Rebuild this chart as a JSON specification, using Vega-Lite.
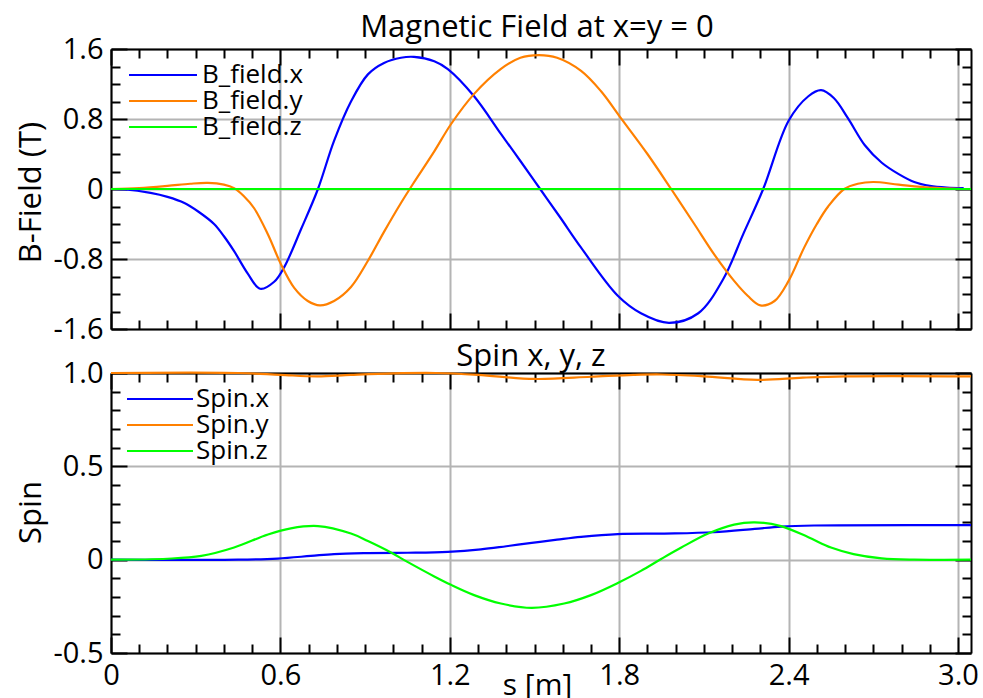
{
"$schema": "https://vega.github.io/schema/vega-lite/v6.json",
"autosize": {"type": "pad"},
"padding": {"left": 14, "top": 12, "right": 6, "bottom": 0},
"background": "white",
"bounds": "flush",
"spacing": 44,
"config": {
  "font": "Open Sans",
  "view": {"stroke": null},
  "axis": {"domainColor": "black", "domainWidth": 2, "tickColor": "black", "tickWidth": 2, "labelColor": "black", "titleColor": "black", "gridColor": "#b4b4b4", "gridWidth": 2, "labelFont": "Open Sans", "labelFontSize": 29, "titleFont": "Open Sans", "titleFontWeight": "normal", "labelFlush": false, "labelOverlap": false, "labelPadding": 24},
  "legend": {"labelFont": "Open Sans", "labelFontSize": 26, "labelColor": "black"},
  "title": {"font": "Open Sans", "fontWeight": "normal", "color": "black"}
},
"resolve": {"scale": {"x": "independent", "y": "independent", "color": "independent"}, "legend": {"color": "independent"}},
"datasets": {
  "bfield": [
    {"s":0,"v":0,"c":"B_field.x"},{"s":0.05,"v":-0.005,"c":"B_field.x"},{"s":0.14,"v":-0.045,"c":"B_field.x"},{"s":0.2,"v":-0.09,"c":"B_field.x"},{"s":0.26,"v":-0.16,"c":"B_field.x"},{"s":0.31,"v":-0.26,"c":"B_field.x"},{"s":0.365,"v":-0.4,"c":"B_field.x"},{"s":0.4,"v":-0.54,"c":"B_field.x"},{"s":0.436,"v":-0.71,"c":"B_field.x"},{"s":0.485,"v":-0.97,"c":"B_field.x"},{"s":0.528,"v":-1.14,"c":"B_field.x"},{"s":0.578,"v":-1.06,"c":"B_field.x"},{"s":0.614,"v":-0.89,"c":"B_field.x"},{"s":0.673,"v":-0.46,"c":"B_field.x"},{"s":0.733,"v":0,"c":"B_field.x"},{"s":0.79,"v":0.55,"c":"B_field.x"},{"s":0.85,"v":1.0,"c":"B_field.x"},{"s":0.91,"v":1.31,"c":"B_field.x"},{"s":0.967,"v":1.44,"c":"B_field.x"},{"s":1.027,"v":1.5,"c":"B_field.x"},{"s":1.073,"v":1.51,"c":"B_field.x"},{"s":1.145,"v":1.46,"c":"B_field.x"},{"s":1.193,"v":1.37,"c":"B_field.x"},{"s":1.286,"v":1.06,"c":"B_field.x"},{"s":1.381,"v":0.63,"c":"B_field.x"},{"s":1.45,"v":0.32,"c":"B_field.x"},{"s":1.52,"v":0,"c":"B_field.x"},{"s":1.59,"v":-0.32,"c":"B_field.x"},{"s":1.665,"v":-0.67,"c":"B_field.x"},{"s":1.795,"v":-1.22,"c":"B_field.x"},{"s":1.877,"v":-1.42,"c":"B_field.x"},{"s":1.976,"v":-1.53,"c":"B_field.x"},{"s":2.08,"v":-1.42,"c":"B_field.x"},{"s":2.17,"v":-1.02,"c":"B_field.x"},{"s":2.24,"v":-0.51,"c":"B_field.x"},{"s":2.31,"v":0,"c":"B_field.x"},{"s":2.4,"v":0.78,"c":"B_field.x"},{"s":2.47,"v":1.06,"c":"B_field.x"},{"s":2.515,"v":1.13,"c":"B_field.x"},{"s":2.56,"v":1.04,"c":"B_field.x"},{"s":2.61,"v":0.81,"c":"B_field.x"},{"s":2.67,"v":0.5,"c":"B_field.x"},{"s":2.73,"v":0.3,"c":"B_field.x"},{"s":2.79,"v":0.17,"c":"B_field.x"},{"s":2.845,"v":0.08,"c":"B_field.x"},{"s":2.9,"v":0.035,"c":"B_field.x"},{"s":2.96,"v":0.015,"c":"B_field.x"},{"s":3.02,"v":0.01,"c":"B_field.x"},
    {"s":0,"v":0,"c":"B_field.y"},{"s":0.1,"v":0.01,"c":"B_field.y"},{"s":0.2,"v":0.035,"c":"B_field.y"},{"s":0.28,"v":0.06,"c":"B_field.y"},{"s":0.343,"v":0.07,"c":"B_field.y"},{"s":0.4,"v":0.05,"c":"B_field.y"},{"s":0.436,"v":0.01,"c":"B_field.y"},{"s":0.47,"v":-0.08,"c":"B_field.y"},{"s":0.507,"v":-0.22,"c":"B_field.y"},{"s":0.556,"v":-0.52,"c":"B_field.y"},{"s":0.602,"v":-0.86,"c":"B_field.y"},{"s":0.649,"v":-1.13,"c":"B_field.y"},{"s":0.697,"v":-1.28,"c":"B_field.y"},{"s":0.74,"v":-1.33,"c":"B_field.y"},{"s":0.79,"v":-1.28,"c":"B_field.y"},{"s":0.85,"v":-1.12,"c":"B_field.y"},{"s":0.91,"v":-0.82,"c":"B_field.y"},{"s":0.967,"v":-0.49,"c":"B_field.y"},{"s":1.027,"v":-0.16,"c":"B_field.y"},{"s":1.07,"v":0.06,"c":"B_field.y"},{"s":1.145,"v":0.43,"c":"B_field.y"},{"s":1.204,"v":0.74,"c":"B_field.y"},{"s":1.287,"v":1.09,"c":"B_field.y"},{"s":1.38,"v":1.37,"c":"B_field.y"},{"s":1.45,"v":1.5,"c":"B_field.y"},{"s":1.516,"v":1.53,"c":"B_field.y"},{"s":1.58,"v":1.5,"c":"B_field.y"},{"s":1.665,"v":1.35,"c":"B_field.y"},{"s":1.735,"v":1.12,"c":"B_field.y"},{"s":1.806,"v":0.81,"c":"B_field.y"},{"s":1.9,"v":0.4,"c":"B_field.y"},{"s":1.984,"v":0,"c":"B_field.y"},{"s":2.066,"v":-0.4,"c":"B_field.y"},{"s":2.137,"v":-0.75,"c":"B_field.y"},{"s":2.207,"v":-1.05,"c":"B_field.y"},{"s":2.255,"v":-1.22,"c":"B_field.y"},{"s":2.3,"v":-1.33,"c":"B_field.y"},{"s":2.35,"v":-1.28,"c":"B_field.y"},{"s":2.4,"v":-1.05,"c":"B_field.y"},{"s":2.455,"v":-0.67,"c":"B_field.y"},{"s":2.5,"v":-0.4,"c":"B_field.y"},{"s":2.54,"v":-0.2,"c":"B_field.y"},{"s":2.597,"v":0,"c":"B_field.y"},{"s":2.645,"v":0.06,"c":"B_field.y"},{"s":2.7,"v":0.08,"c":"B_field.y"},{"s":2.79,"v":0.05,"c":"B_field.y"},{"s":2.9,"v":0.015,"c":"B_field.y"},{"s":3.02,"v":0,"c":"B_field.y"},
    {"s":0,"v":0,"c":"B_field.z"},{"s":1.5,"v":0,"c":"B_field.z"},{"s":3.046,"v":0,"c":"B_field.z"}
  ],
  "spin": [
    {"s":0,"v":0,"c":"Spin.x"},{"s":0.45,"v":0,"c":"Spin.x"},{"s":0.59,"v":0.006,"c":"Spin.x"},{"s":0.708,"v":0.02,"c":"Spin.x"},{"s":0.79,"v":0.03,"c":"Spin.x"},{"s":0.91,"v":0.035,"c":"Spin.x"},{"s":1.05,"v":0.037,"c":"Spin.x"},{"s":1.193,"v":0.042,"c":"Spin.x"},{"s":1.31,"v":0.055,"c":"Spin.x"},{"s":1.4,"v":0.072,"c":"Spin.x"},{"s":1.49,"v":0.09,"c":"Spin.x"},{"s":1.58,"v":0.107,"c":"Spin.x"},{"s":1.665,"v":0.122,"c":"Spin.x"},{"s":1.795,"v":0.137,"c":"Spin.x"},{"s":1.96,"v":0.14,"c":"Spin.x"},{"s":2.135,"v":0.147,"c":"Spin.x"},{"s":2.28,"v":0.165,"c":"Spin.x"},{"s":2.373,"v":0.177,"c":"Spin.x"},{"s":2.49,"v":0.183,"c":"Spin.x"},{"s":3.046,"v":0.185,"c":"Spin.x"},
    {"s":0,"v":1.0,"c":"Spin.y"},{"s":0.45,"v":1.0,"c":"Spin.y"},{"s":0.6,"v":0.99,"c":"Spin.y"},{"s":0.73,"v":0.982,"c":"Spin.y"},{"s":0.85,"v":0.99,"c":"Spin.y"},{"s":1.0,"v":0.998,"c":"Spin.y"},{"s":1.15,"v":1.0,"c":"Spin.y"},{"s":1.3,"v":0.99,"c":"Spin.y"},{"s":1.5,"v":0.968,"c":"Spin.y"},{"s":1.7,"v":0.98,"c":"Spin.y"},{"s":1.85,"v":0.99,"c":"Spin.y"},{"s":1.95,"v":0.992,"c":"Spin.y"},{"s":2.1,"v":0.982,"c":"Spin.y"},{"s":2.29,"v":0.963,"c":"Spin.y"},{"s":2.45,"v":0.975,"c":"Spin.y"},{"s":2.6,"v":0.982,"c":"Spin.y"},{"s":3.046,"v":0.982,"c":"Spin.y"},
    {"s":0,"v":0,"c":"Spin.z"},{"s":0.2,"v":0.005,"c":"Spin.z"},{"s":0.32,"v":0.02,"c":"Spin.z"},{"s":0.436,"v":0.065,"c":"Spin.z"},{"s":0.556,"v":0.135,"c":"Spin.z"},{"s":0.637,"v":0.168,"c":"Spin.z"},{"s":0.733,"v":0.18,"c":"Spin.z"},{"s":0.85,"v":0.14,"c":"Spin.z"},{"s":0.91,"v":0.1,"c":"Spin.z"},{"s":0.99,"v":0.04,"c":"Spin.z"},{"s":1.05,"v":-0.012,"c":"Spin.z"},{"s":1.145,"v":-0.09,"c":"Spin.z"},{"s":1.204,"v":-0.135,"c":"Spin.z"},{"s":1.286,"v":-0.19,"c":"Spin.z"},{"s":1.381,"v":-0.235,"c":"Spin.z"},{"s":1.49,"v":-0.258,"c":"Spin.z"},{"s":1.605,"v":-0.235,"c":"Spin.z"},{"s":1.7,"v":-0.19,"c":"Spin.z"},{"s":1.795,"v":-0.125,"c":"Spin.z"},{"s":1.877,"v":-0.06,"c":"Spin.z"},{"s":1.95,"v":0.005,"c":"Spin.z"},{"s":2.02,"v":0.065,"c":"Spin.z"},{"s":2.115,"v":0.14,"c":"Spin.z"},{"s":2.207,"v":0.188,"c":"Spin.z"},{"s":2.28,"v":0.2,"c":"Spin.z"},{"s":2.373,"v":0.18,"c":"Spin.z"},{"s":2.47,"v":0.12,"c":"Spin.z"},{"s":2.55,"v":0.065,"c":"Spin.z"},{"s":2.63,"v":0.03,"c":"Spin.z"},{"s":2.73,"v":0.007,"c":"Spin.z"},{"s":2.845,"v":0,"c":"Spin.z"},{"s":3.046,"v":0,"c":"Spin.z"}
  ]
},
"vconcat": [
  {
    "width": 860, "height": 280,
    "data": {"name": "bfield"},
    "title": {"text": "Magnetic Field at x=y = 0", "fontSize": 31, "frame": "group", "anchor": "middle", "baseline": "alphabetic", "offset": -33, "dx": -4},
    "resolve": {"axis": {"x": "independent", "y": "independent"}},
    "layer": [
      {
        "mark": {"type": "line", "strokeWidth": 2.2, "interpolate": "catmull-rom"},
        "encoding": {
          "x": {"field": "s", "type": "quantitative", "scale": {"domain": [0, 3.046], "nice": false, "zero": false},
                "axis": {"orient": "bottom", "values": [0, 0.6, 1.2, 1.8, 2.4, 3.0], "tickSize": -16, "grid": true, "labels": false, "title": null}},
          "y": {"field": "v", "type": "quantitative", "scale": {"domain": [-1.6, 1.6], "nice": false, "zero": false},
                "axis": {"orient": "left", "values": [-1.6, -0.8, 0, 0.8, 1.6], "tickSize": -16, "grid": true, "labelExpr": "datum.value == 0 ? '0' : (datum.value < 0 ? '-' : '') + format(abs(datum.value), '.1f')", "title": "B-Field (T)", "titleFontSize": 31, "titleX": -71, "titleY": 143, "titleBaseline": "alphabetic", "titleAlign": "center"}},
          "color": {"field": "c", "type": "nominal", "sort": ["B_field.x", "B_field.y", "B_field.z"],
                    "scale": {"domain": ["B_field.x", "B_field.y", "B_field.z"], "range": ["#0000ff", "#ff8000", "#00ff00"]},
                    "legend": {"orient": "none", "legendX": 39, "legendY": 13, "title": null, "symbolType": "M-3.09,0H3.09", "symbolSize": 484, "symbolStrokeWidth": 2.2, "labelOffset": 26, "rowPadding": -1, "padding": 0, "offset": 0}}
        }
      },
      {
        "mark": {"type": "point", "opacity": 0},
        "encoding": {
          "x": {"field": "s", "type": "quantitative", "scale": {"domain": [0, 3.046], "nice": false, "zero": false},
                "axis": {"orient": "bottom", "values": [0.1,0.2,0.3,0.4,0.5,0.7,0.8,0.9,1.0,1.1,1.3,1.4,1.5,1.6,1.7,1.9,2.0,2.1,2.2,2.3,2.5,2.6,2.7,2.8,2.9], "tickSize": -9, "grid": false, "labels": false, "domain": false, "title": null}},
          "y": {"field": "v", "type": "quantitative", "scale": {"domain": [-1.6, 1.6], "nice": false, "zero": false},
                "axis": {"orient": "left", "values": [-1.4,-1.2,-1.0,-0.6,-0.4,-0.2,0.2,0.4,0.6,1.0,1.2,1.4], "tickSize": -9, "grid": false, "labels": false, "domain": false, "title": null}}
        }
      },
      {
        "mark": {"type": "point", "opacity": 0},
        "encoding": {
          "x": {"field": "s", "type": "quantitative", "scale": {"domain": [0, 3.046], "nice": false, "zero": false},
                "axis": {"orient": "top", "values": [0, 0.6, 1.2, 1.8, 2.4, 3.0], "tickSize": -16, "grid": false, "labels": false, "title": null}},
          "y": {"field": "v", "type": "quantitative", "scale": {"domain": [-1.6, 1.6], "nice": false, "zero": false},
                "axis": {"orient": "right", "values": [-1.6, -0.8, 0, 0.8, 1.6], "tickSize": -16, "grid": false, "labels": false, "title": null}}
        }
      },
      {
        "mark": {"type": "point", "opacity": 0},
        "encoding": {
          "x": {"field": "s", "type": "quantitative", "scale": {"domain": [0, 3.046], "nice": false, "zero": false},
                "axis": {"orient": "top", "values": [0.1,0.2,0.3,0.4,0.5,0.7,0.8,0.9,1.0,1.1,1.3,1.4,1.5,1.6,1.7,1.9,2.0,2.1,2.2,2.3,2.5,2.6,2.7,2.8,2.9], "tickSize": -9, "grid": false, "labels": false, "domain": false, "title": null}},
          "y": {"field": "v", "type": "quantitative", "scale": {"domain": [-1.6, 1.6], "nice": false, "zero": false},
                "axis": {"orient": "right", "values": [-1.4,-1.2,-1.0,-0.6,-0.4,-0.2,0.2,0.4,0.6,1.0,1.2,1.4], "tickSize": -9, "grid": false, "labels": false, "domain": false, "title": null}}
        }
      }
    ]
  },
  {
    "width": 860, "height": 280,
    "data": {"name": "spin"},
    "title": {"text": "Spin x, y, z", "fontSize": 31, "frame": "group", "anchor": "middle", "baseline": "alphabetic", "offset": -38, "dx": -10},
    "resolve": {"axis": {"x": "independent", "y": "independent"}},
    "layer": [
      {
        "mark": {"type": "line", "strokeWidth": 2.2, "interpolate": "catmull-rom"},
        "encoding": {
          "x": {"field": "s", "type": "quantitative", "scale": {"domain": [0, 3.046], "nice": false, "zero": false},
                "axis": {"orient": "bottom", "values": [0, 0.6, 1.2, 1.8, 2.4, 3.0], "tickSize": -16, "grid": true, "labels": true, "labelExpr": "datum.value == 0 ? '0' : format(datum.value, '.1f')", "title": "s [m]", "titleFontSize": 30, "titleX": 426, "titleY": 41, "titleBaseline": "alphabetic", "titleAlign": "center"}},
          "y": {"field": "v", "type": "quantitative", "scale": {"domain": [-0.5, 1.0], "nice": false, "zero": false},
                "axis": {"orient": "left", "values": [-0.5, 0, 0.5, 1.0], "tickSize": -16, "grid": true, "labelExpr": "datum.value == 0 ? '0' : (datum.value < 0 ? '-' : '') + format(abs(datum.value), '.1f')", "title": "Spin", "titleFontSize": 31, "titleX": -71, "titleY": 139, "titleBaseline": "alphabetic", "titleAlign": "center"}},
          "color": {"field": "c", "type": "nominal", "sort": ["Spin.x", "Spin.y", "Spin.z"],
                    "scale": {"domain": ["Spin.x", "Spin.y", "Spin.z"], "range": ["#0000ff", "#ff8000", "#00ff00"]},
                    "legend": {"orient": "none", "legendX": 36, "legendY": 13, "title": null, "symbolType": "M-3.0,0H3.0", "symbolSize": 484, "symbolStrokeWidth": 2.2, "labelOffset": 23, "rowPadding": -1, "padding": 0, "offset": 0}}
        }
      },
      {
        "mark": {"type": "point", "opacity": 0},
        "encoding": {
          "x": {"field": "s", "type": "quantitative", "scale": {"domain": [0, 3.046], "nice": false, "zero": false},
                "axis": {"orient": "bottom", "values": [0.1,0.2,0.3,0.4,0.5,0.7,0.8,0.9,1.0,1.1,1.3,1.4,1.5,1.6,1.7,1.9,2.0,2.1,2.2,2.3,2.5,2.6,2.7,2.8,2.9], "tickSize": -9, "grid": false, "labels": false, "domain": false, "title": null}},
          "y": {"field": "v", "type": "quantitative", "scale": {"domain": [-0.5, 1.0], "nice": false, "zero": false},
                "axis": {"orient": "left", "values": [-0.4,-0.3,-0.2,-0.1,0.1,0.2,0.3,0.4,0.6,0.7,0.8,0.9], "tickSize": -9, "grid": false, "labels": false, "domain": false, "title": null}}
        }
      },
      {
        "mark": {"type": "point", "opacity": 0},
        "encoding": {
          "x": {"field": "s", "type": "quantitative", "scale": {"domain": [0, 3.046], "nice": false, "zero": false},
                "axis": {"orient": "top", "values": [0, 0.6, 1.2, 1.8, 2.4, 3.0], "tickSize": -16, "grid": false, "labels": false, "title": null}},
          "y": {"field": "v", "type": "quantitative", "scale": {"domain": [-0.5, 1.0], "nice": false, "zero": false},
                "axis": {"orient": "right", "values": [-0.5, 0, 0.5, 1.0], "tickSize": -16, "grid": false, "labels": false, "title": null}}
        }
      },
      {
        "mark": {"type": "point", "opacity": 0},
        "encoding": {
          "x": {"field": "s", "type": "quantitative", "scale": {"domain": [0, 3.046], "nice": false, "zero": false},
                "axis": {"orient": "top", "values": [0.1,0.2,0.3,0.4,0.5,0.7,0.8,0.9,1.0,1.1,1.3,1.4,1.5,1.6,1.7,1.9,2.0,2.1,2.2,2.3,2.5,2.6,2.7,2.8,2.9], "tickSize": -9, "grid": false, "labels": false, "domain": false, "title": null}},
          "y": {"field": "v", "type": "quantitative", "scale": {"domain": [-0.5, 1.0], "nice": false, "zero": false},
                "axis": {"orient": "right", "values": [-0.4,-0.3,-0.2,-0.1,0.1,0.2,0.3,0.4,0.6,0.7,0.8,0.9], "tickSize": -9, "grid": false, "labels": false, "domain": false, "title": null}}
        }
      }
    ]
  }
]
}
